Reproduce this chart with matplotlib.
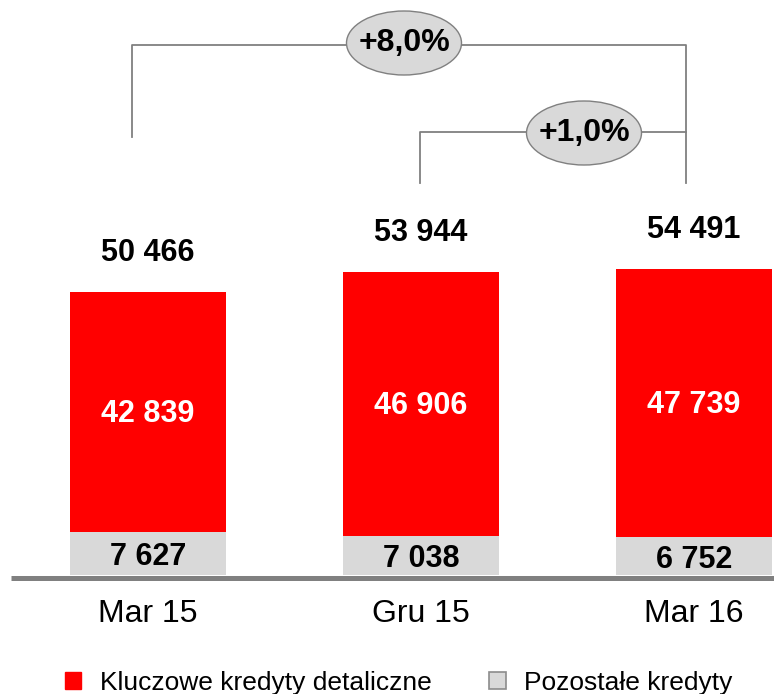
import matplotlib.pyplot as plt
from matplotlib.patches import Ellipse, Patch

plt.rcParams['font.family'] = ['Liberation Sans', 'DejaVu Sans']

# ── Data ──
categories = ['Mar 15', 'Gru 15', 'Mar 16']
core_retail = [42839, 46906, 47739]      # Kluczowe kredyty detaliczne
other_loans = [7627, 7038, 6752]         # Pozostałe kredyty
totals = [50466, 53944, 54491]
growth_labels = ['+8,0%', '+1,0%']       # Mar 15 -> Mar 16, Gru 15 -> Mar 16

RED = '#ff0000'
GREY = '#d9d9d9'
LINE = '#808080'

# ── Layout: pixel -> data helpers ──
W, H = 774, 694
base_px = 575          # baseline y (pixels from top)
s = (base_px - 292) / totals[0]   # pixels per unit
x0_px, step_px = 148, 273         # centre of first bar, spacing


def ypx(p):
    return (base_px - p) / s


def xpx(p):
    return (p - x0_px) / step_px


def fmt(v):
    return f"{v:,}".replace(',', ' ')


fig = plt.figure(figsize=(W / 100, H / 100), dpi=100)
ax = fig.add_axes([0, 0, 1, 1])
ax.set_xlim(xpx(0), xpx(W))
ax.set_ylim(ypx(H), ypx(0))
ax.axis('off')

x = list(range(len(categories)))
width = 156 / step_px

ax.bar(x, other_loans, width=width, color=GREY, zorder=2)
ax.bar(x, core_retail, width=width, bottom=other_loans, color=RED, zorder=2)
ax.plot([xpx(11), xpx(W)], [ypx(577.5), ypx(577.5)], color=LINE,
        linewidth=3.6, solid_capstyle='butt', zorder=3)

for i in x:
    ax.text(i, other_loans[i] / 2 - 3.5 / s, fmt(other_loans[i]),
            ha='center', va='center', fontsize=22, fontweight='bold', color='black', zorder=4)
    ax.text(i, other_loans[i] + core_retail[i] / 2 - 1.5 / s, fmt(core_retail[i]),
            ha='center', va='center', fontsize=22, fontweight='bold', color='white', zorder=4)
    ax.text(i, totals[i] + 39 / s, fmt(totals[i]),
            ha='center', va='center', fontsize=22, fontweight='bold', color='black', zorder=4)
    ax.text(i, ypx(614), categories[i], ha='center', va='center', fontsize=23, color='black')

# ── Growth brackets ──
lw = 1.3
# outer: Mar 15 -> Mar 16
top_y = ypx(45)
ax.plot([xpx(132), xpx(132), xpx(686), xpx(686)],
        [ypx(137), top_y, top_y, ypx(183)],
        color=LINE, linewidth=lw, zorder=1)
# inner: Gru 15 -> Mar 16
mid_y = ypx(132)
ax.plot([xpx(420), xpx(420), xpx(686)],
        [ypx(183), mid_y, mid_y],
        color=LINE, linewidth=lw, zorder=1)

for cx_px, cy_px, lab in [(404, 43, growth_labels[0]), (584, 133, growth_labels[1])]:
    e = Ellipse((xpx(cx_px), ypx(cy_px)), 115 / step_px, 64 / s,
                facecolor=GREY, edgecolor=LINE, linewidth=1.0, zorder=3)
    ax.add_patch(e)
    ax.text(xpx(cx_px), ypx(cy_px), lab, ha='center', va='center',
            fontsize=23, fontweight='bold', color='black', zorder=4)

# ── Legend ──
handles = [Patch(facecolor=RED, edgecolor=RED, label='Kluczowe kredyty detaliczne'),
           Patch(facecolor=GREY, edgecolor='#8c8c8c', linewidth=1.2, label='Pozostałe kredyty')]
ax.legend(handles=handles, loc='center', bbox_to_anchor=(0.515, 0.016),
          bbox_transform=fig.transFigure, ncol=2, frameon=False, fontsize=19,
          handlelength=0.62, handleheight=0.62, handletextpad=0.7, columnspacing=2.2)

fig.savefig('out.png', dpi=100)
